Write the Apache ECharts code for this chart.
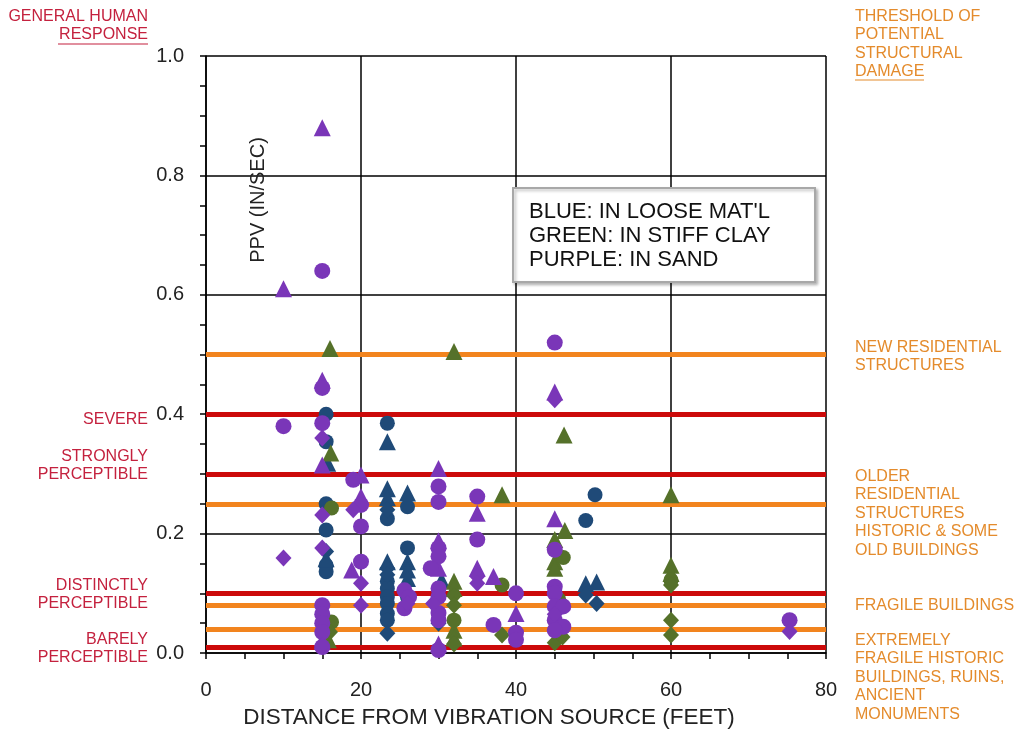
<!DOCTYPE html>
<html>
<head>
<meta charset="utf-8">
<script src="https://cdn.jsdelivr.net/npm/echarts@6/dist/echarts.min.js"></script>
<style>
  html, body { margin: 0; padding: 0; background: #fff; }
  #chart { width: 1019px; height: 736px; }
</style>
</head>
<body>
<div id="chart"></div>
<script>
// Peak particle velocity (in/sec) vs. distance from vibration source (feet)

// Loose material (blue)
const blueCircle = [[15.5,0.40],[23.4,0.385],[15.5,0.354],[15.5,0.25],[23.4,0.225],[26,0.245],[15.5,0.206],[15.5,0.147],[15.5,0.136],[26,0.176],[23.4,0.12],[23.4,0.108],[23.4,0.094],[23.4,0.083],[23.4,0.066],[23.4,0.055],[26,0.094],[50.2,0.265],[49,0.222]];
const blueTriangle = [[23.4,0.354],[15.7,0.318],[23.4,0.275],[26,0.268],[23.4,0.26],[15.5,0.158],[23.4,0.153],[26,0.153],[26,0.139],[26,0.125],[30.4,0.122],[49,0.116],[50.4,0.119]];
const blueDiamond = [[23.4,0.24],[15.5,0.17],[23.4,0.142],[23.4,0.131],[23.4,0.033],[30,0.05],[49,0.097],[50.4,0.083]];

// Stiff clay (green)
const greenTriangle = [[16,0.51],[32,0.505],[46.2,0.365],[16.1,0.335],[38.2,0.265],[60,0.265],[46.3,0.205],[45,0.19],[45,0.153],[45,0.142],[60,0.147],[60,0.133],[32,0.12],[32,0.108],[32,0.038],[32,0.025],[15.8,0.022]];
const greenCircle = [[16.2,0.243],[46.1,0.16],[60,0.122],[38.2,0.114],[32,0.055],[16.2,0.052],[45.5,0.09]];
const greenDiamond = [[60,0.114],[32,0.096],[32,0.08],[60,0.055],[38.2,0.03],[60,0.03],[32,0.015],[45,0.017],[46,0.027],[16,0.035]];

// Sand (purple)
const purpleTriangle = [[15,0.88],[10,0.61],[15,0.457],[45,0.437],[15,0.315],[30,0.309],[20,0.298],[20,0.262],[35,0.234],[45,0.225],[18.8,0.139],[30,0.188],[30,0.142],[35,0.142],[37.1,0.128],[40,0.066],[30,0.015],[15,0.02]];
const purpleCircle = [[15,0.64],[45,0.52],[15,0.444],[10,0.38],[15,0.385],[19,0.29],[30,0.279],[35,0.262],[30,0.253],[20,0.248],[20,0.212],[35,0.19],[30,0.176],[30,0.162],[45,0.173],[20,0.153],[29,0.142],[30,0.108],[30,0.094],[40,0.1],[45,0.111],[45,0.1],[25.6,0.105],[26.2,0.094],[25.6,0.075],[15,0.08],[15,0.065],[15,0.05],[15,0.035],[15,0.01],[30,0.067],[30,0.055],[30,0.005],[37.1,0.047],[40,0.034],[40,0.022],[45,0.078],[46.1,0.078],[45,0.055],[46.1,0.044],[45,0.038],[75.3,0.055]];
const purpleDiamond = [[45,0.424],[15,0.36],[15,0.231],[19,0.24],[15,0.176],[10,0.159],[20,0.117],[20,0.08],[35,0.128],[35,0.117],[29.3,0.083],[45,0.065],[15,0.012],[75.3,0.036],[26,0.083]];

// Human response thresholds (red) and structural damage thresholds (orange)
const humanLevels = [0.4, 0.3, 0.1, 0.01];
const damageLevels = [0.5, 0.25, 0.08, 0.04];

const xTicks = { min: 0, max: 80, interval: 20 };
const yTicks = { min: 0, max: 1.0, interval: 0.2 };

const BLUE = '#1f4a78';
const GREEN = '#55712a';
const PURPLE = '#7a36b8';
const RED = '#cc0a0a';
const ORANGE = '#f2841e';
const RED_TEXT = '#c4213e';
const ORANGE_TEXT = '#e48b2c';
const FONT = '"Liberation Sans", Arial, sans-serif';

function scatter(name, data, color, symbol, size) {
  return {
    name, type: 'scatter', data, symbol, symbolSize: size, z: 5,
    itemStyle: { color, opacity: 1 },
    emphasis: { disabled: true }
  };
}

const chart = echarts.init(document.getElementById('chart'), null, { renderer: 'canvas' });

const lineData = []
  .concat(humanLevels.map(v => ({ yAxis: v, lineStyle: { color: RED, width: 5, type: 'solid' } })))
  .concat(damageLevels.map(v => ({ yAxis: v, lineStyle: { color: ORANGE, width: 5, type: 'solid' } })));

function leftLabel(lines, top) {
  return {
    type: 'text', right: 1019 - 148, top,
    style: { text: lines.join('\n'), fill: RED_TEXT, font: '16px ' + FONT, textAlign: 'right', lineHeight: 18 }
  };
}
function rightLabel(lines, top) {
  return {
    type: 'text', left: 855, top,
    style: { text: lines.join('\n'), fill: ORANGE_TEXT, font: '16px ' + FONT, textAlign: 'left', lineHeight: 18.5 }
  };
}

chart.setOption({
  animation: false,
  backgroundColor: '#fff',
  grid: { left: 206, top: 56, right: 193, bottom: 83, containLabel: false },
  xAxis: {
    type: 'value', min: xTicks.min, max: xTicks.max, interval: xTicks.interval,
    axisLine: { show: true, onZero: false, lineStyle: { color: '#000', width: 1.5 } },
    axisTick: { show: true, inside: false, length: 6, lineStyle: { color: '#000', width: 1.5 } },
    minorTick: { show: true, splitNumber: 4, length: 6, lineStyle: { color: '#000', width: 1.5 } },
    splitLine: { show: true, lineStyle: { color: '#000', width: 1.5 } },
    axisLabel: { color: '#222', fontSize: 20, fontFamily: FONT, margin: 27 }
  },
  yAxis: {
    type: 'value', min: yTicks.min, max: yTicks.max, interval: yTicks.interval,
    axisLine: { show: true, onZero: false, lineStyle: { color: '#000', width: 1.5 } },
    axisTick: { show: true, inside: false, length: 6, lineStyle: { color: '#000', width: 1.5 } },
    minorTick: { show: true, splitNumber: 4, length: 6, lineStyle: { color: '#000', width: 1.5 } },
    splitLine: { show: true, lineStyle: { color: '#000', width: 1.5 } },
    axisLabel: { color: '#222', fontSize: 20, fontFamily: FONT, margin: 22, formatter: v => v.toFixed(1) }
  },
  series: [
    {
      name: 'thresholds', type: 'scatter', data: [], z: 3,
      markLine: { silent: true, symbol: 'none', label: { show: false }, data: lineData, animation: false }
    },
    scatter('blueCircle', blueCircle, BLUE, 'circle', 15),
    scatter('blueTriangle', blueTriangle, BLUE, 'triangle', 17),
    scatter('blueDiamond', blueDiamond, BLUE, 'diamond', [16, 17]),
    scatter('greenTriangle', greenTriangle, GREEN, 'triangle', 17),
    scatter('greenCircle', greenCircle, GREEN, 'circle', 15),
    scatter('greenDiamond', greenDiamond, GREEN, 'diamond', [16, 17]),
    scatter('purpleTriangle', purpleTriangle, PURPLE, 'triangle', 17),
    scatter('purpleCircle', purpleCircle, PURPLE, 'circle', 16),
    scatter('purpleDiamond', purpleDiamond, PURPLE, 'diamond', [16, 17])
  ],
  graphic: [
    // axis titles
    {
      type: 'text', x: 258, y: 200, rotation: Math.PI / 2, z: 10,
      style: { text: 'PPV (IN/SEC)', fill: '#222', font: '20px ' + FONT, textAlign: 'center', textVerticalAlign: 'middle' }
    },
    {
      type: 'text', x: 489, y: 718, z: 10,
      style: { text: 'DISTANCE FROM VIBRATION SOURCE (FEET)', fill: '#222', font: '22.5px ' + FONT, textAlign: 'center', textVerticalAlign: 'middle' }
    },
    // soil legend box
    {
      type: 'rect', shape: { x: 513, y: 188, width: 302, height: 94 }, z: 20,
      style: { fill: '#fff', stroke: '#a8a8a8', lineWidth: 2, shadowBlur: 3, shadowOffsetX: 2, shadowOffsetY: 2, shadowColor: 'rgba(0,0,0,0.25)' }
    },
    {
      type: 'text', x: 529, y: 200, z: 21,
      style: { text: "BLUE: IN LOOSE MAT'L\nGREEN: IN STIFF CLAY\nPURPLE: IN SAND", fill: '#111', font: '22px ' + FONT, lineHeight: 24 }
    },
    // human response labels
    leftLabel(['GENERAL HUMAN', 'RESPONSE'], 8),
    { type: 'line', shape: { x1: 58, y1: 44, x2: 148, y2: 44 }, style: { stroke: RED_TEXT, lineWidth: 1.2 } },
    leftLabel(['SEVERE'], 411),
    leftLabel(['STRONGLY', 'PERCEPTIBLE'], 448),
    leftLabel(['DISTINCTLY', 'PERCEPTIBLE'], 577),
    leftLabel(['BARELY', 'PERCEPTIBLE'], 631),
    // structural damage labels
    rightLabel(['THRESHOLD OF', 'POTENTIAL', 'STRUCTURAL', 'DAMAGE'], 7),
    { type: 'line', shape: { x1: 855, y1: 80, x2: 924, y2: 80 }, style: { stroke: ORANGE_TEXT, lineWidth: 1.2 } },
    rightLabel(['NEW RESIDENTIAL', 'STRUCTURES'], 338),
    rightLabel(['OLDER', 'RESIDENTIAL', 'STRUCTURES', 'HISTORIC & SOME', 'OLD BUILDINGS'], 467),
    rightLabel(['FRAGILE BUILDINGS'], 596),
    rightLabel(['EXTREMELY', 'FRAGILE HISTORIC', 'BUILDINGS, RUINS,', 'ANCIENT', 'MONUMENTS'], 631)
  ]
});
</script>
</body>
</html>
